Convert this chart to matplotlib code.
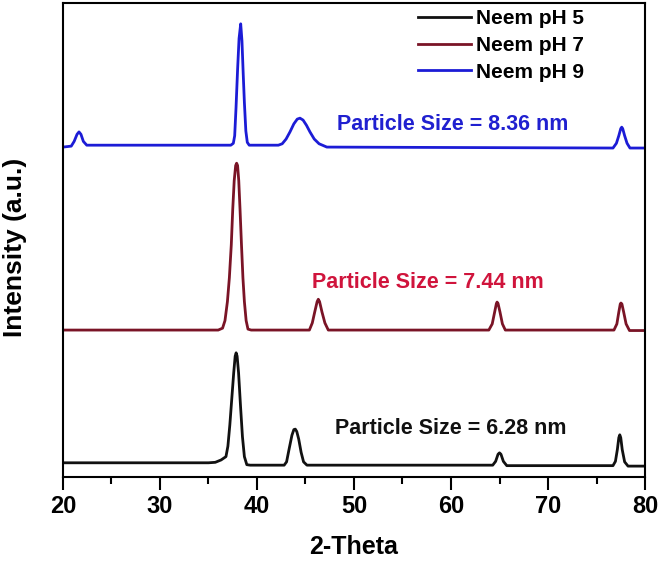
import matplotlib
matplotlib.use("Agg")
import matplotlib.pyplot as plt
from matplotlib.ticker import MultipleLocator

plt.rcParams['font.family'] = ['Liberation Sans', 'DejaVu Sans']
plt.rcParams['font.weight'] = 'bold'

# XRD traces (2-theta, intensity in a.u.)
ph5_x = [20, 35.0, 35.7, 36.3, 36.8, 37.0, 37.2, 37.4, 37.6, 37.75, 37.85, 37.95,
         38.1, 38.3, 38.5, 38.7, 38.95, 39.3,
         42.8, 43.05, 43.3, 43.6, 43.8, 43.95, 44.1, 44.3, 44.55, 44.8, 45.15,
         64.3, 64.6, 64.85, 65.0, 65.15, 65.4, 65.75,
         76.7, 76.95, 77.15, 77.3, 77.4, 77.5, 77.65, 77.9, 78.25, 80]
ph5_y = [3.0, 3.0, 3.1, 3.6, 4.3, 6.5, 11.0, 16.5, 22.0, 25.5, 26.2, 25.5,
         22.0, 15.0, 8.5, 4.3, 2.6, 2.5,
         2.5, 3.2, 5.8, 8.8, 10.0, 10.1, 9.6, 8.0, 5.2, 3.2, 2.5,
         2.5, 3.3, 4.8, 5.1, 4.8, 3.3, 2.4,
         2.4, 3.3, 5.8, 8.3, 8.9, 8.3, 5.8, 3.2, 2.3, 2.3]

ph7_x = [20, 36.0, 36.45, 36.7, 36.95, 37.15, 37.35, 37.5, 37.65, 37.8, 37.9, 38.0,
         38.12, 38.25, 38.4, 38.55, 38.7, 38.88, 39.07, 39.4,
         45.4, 45.7, 45.95, 46.2, 46.32, 46.45, 46.7, 47.0, 47.35,
         63.9, 64.25, 64.5, 64.68, 64.75, 64.85, 65.05, 65.3, 65.6,
         76.8, 77.1, 77.3, 77.45, 77.52, 77.62, 77.8, 78.05, 78.4, 80]
ph7_y = [31.0, 31.0, 31.4, 33.0, 37.0, 42.0, 49.0, 56.5, 62.5, 65.7, 66.2, 65.7,
         62.5, 56.5, 49.0, 42.0, 37.0, 33.0, 31.2, 31.0,
         31.0, 32.5, 34.8, 37.0, 37.5, 37.0, 34.8, 32.5, 31.0,
         31.0, 32.3, 34.8, 36.6, 36.9, 36.6, 34.8, 32.3, 31.0,
         31.0, 32.3, 34.8, 36.5, 36.7, 36.5, 34.8, 32.3, 30.9, 30.9]

ph9_x = [20, 20.85, 21.15, 21.45, 21.65, 21.85, 22.1, 22.45,
         37.3, 37.56, 37.7, 37.84, 38.0, 38.15, 38.32, 38.45, 38.58, 38.7, 38.85, 39.0, 39.2,
         42.2, 42.6, 43.0, 43.4, 43.8, 44.15, 44.43, 44.75, 45.1, 45.46, 45.9, 46.4, 47.2,
         76.7, 77.05, 77.3, 77.5, 77.6, 77.7, 77.9, 78.15, 78.45, 80]
ph9_y = [69.6, 69.8, 70.8, 72.3, 72.8, 72.3, 70.8, 70.0,
         70.0, 70.4, 72.0, 78.0, 86.0, 92.5, 95.6, 92.0, 85.0, 79.0, 73.0, 70.6, 70.0,
         70.0, 70.3, 71.3, 72.8, 74.5, 75.5, 75.7, 75.3, 74.2, 72.8, 71.3, 70.3, 69.6,
         69.4, 70.4, 72.0, 73.5, 73.8, 73.5, 72.0, 70.4, 69.4, 69.4]

labels = ["Neem pH 5", "Neem pH 7", "Neem pH 9"]
colors = ["#111111", "#7a1426", "#1c1cd6"]
size_texts = ["Particle Size = 6.28 nm", "Particle Size = 7.44 nm", "Particle Size = 8.36 nm"]
text_colors = ["#111111", "#d0143c", "#2020d0"]
text_x = [48.0, 45.7, 48.2]
text_y = [10.3, 41.1, 74.3]

fig = plt.figure(figsize=(6.61, 5.61), dpi=100)
ax = fig.add_axes([0.0953, 0.1497, 0.8805, 0.845])

for xs, ys, c, lab in zip([ph5_x, ph7_x, ph9_x], [ph5_y, ph7_y, ph9_y], colors, labels):
    ax.plot(xs, ys, color=c, lw=2.0, label=lab, solid_joinstyle='round')

for t, c, x, y in zip(size_texts, text_colors, text_x, text_y):
    ax.text(x, y, t, color=c, fontsize=15.5, fontweight='bold', va='center', ha='left')

ax.set_xlim(20, 80)
ax.set_ylim(0, 100)
ax.xaxis.set_major_locator(MultipleLocator(10))
ax.xaxis.set_minor_locator(MultipleLocator(5))
ax.set_yticks([])
ax.tick_params(axis='x', which='major', direction='out', length=9, width=1.5,
               labelsize=17, pad=4)
ax.tick_params(axis='x', which='minor', direction='out', length=5, width=1.5)
for lbl in ax.get_xticklabels():
    lbl.set_fontweight('bold')
for s in ax.spines.values():
    s.set_linewidth(1.5)

ax.set_xlabel("2-Theta", fontsize=18, fontweight='bold', labelpad=12)
ax.set_ylabel("Intensity (a.u.)", fontsize=19, fontweight='bold')
ax.yaxis.set_label_coords(-0.062, 0.485)

ax.legend(loc='upper left', bbox_to_anchor=(0.6, 1.0), frameon=False,
          handlelength=2.5, handletextpad=0.25, labelspacing=0.37,
          borderpad=0.1, borderaxespad=0.2, prop={'weight': 'bold', 'size': 15})

fig.savefig("out.png", dpi=100)
